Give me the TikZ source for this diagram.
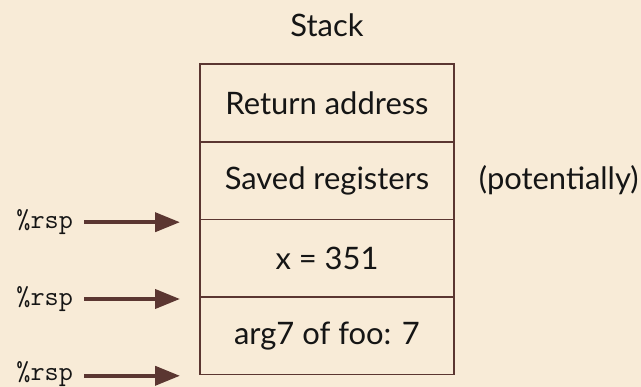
\documentclass[tikz,border=0pt]{standalone}
\usepackage{fontspec}
\setmainfont{Lato}
\usepackage{xcolor}
\usepackage{tikz}
\usetikzlibrary{positioning,arrows.meta}

\definecolor{paper}{HTML}{F8EBD7}
\definecolor{frame}{HTML}{5B3631}
\definecolor{ink}{HTML}{151515}

\begin{document}
\begin{tikzpicture}[
    slot/.style={draw=frame, line width=1.1pt, rectangle, minimum width=6.35cm,
      minimum height=1.94cm, inner sep=0pt, outer sep=0pt, text=ink,
      font=\fontsize{22}{26}\selectfont},
    label/.style={text=ink, font=\fontsize{22}{26}\selectfont},
    rsp/.style={text=ink, font=\ttfamily\fontsize{19.5}{22}\selectfont,
      inner ysep=0pt, inner xsep=0.27cm},
    ptr/.style={draw=frame, line width=2.9pt, -{Triangle[length=0.62cm, width=0.47cm]}}
  ]
    \fill[paper] (0,0) rectangle (16.025,9.675);
    \useasboundingbox (0,0) rectangle (16.025,9.675);

    % the stack frame, top to bottom
    \node[slot] (ret) at (8.175,7.1) {Return address};
    \node[slot, below=0pt of ret] (saved) {Saved registers};
    \node[slot, below=0pt of saved] (xval) {x = 351};
    \node[slot, below=0pt of xval] (arg) {arg7 of foo: 7};

    \node[label, above=0.55cm of ret] (title) {Stack};
    \node[label, right=0.5cm of saved] (maybe) {(potentially)};

    % possible values of the stack pointer
    \coordinate (p1) at ([xshift=-0.5cm, yshift=-0.07cm]xval.north west);
    \coordinate (p2) at ([xshift=-0.5cm, yshift=-0.05cm]arg.north west);
    \coordinate (p3) at ([xshift=-0.5cm, yshift=-0.03cm]arg.south west);
    \node[rsp, anchor=east] (r1) at ([xshift=-2.4cm]p1) {\%rsp};
    \node[rsp, anchor=east] (r2) at ([xshift=-2.4cm]p2) {\%rsp};
    \node[rsp, anchor=east] (r3) at ([xshift=-2.4cm, yshift=0.04cm]p3) {\%rsp};
    \draw[ptr] (r1.east) -- (p1);
    \draw[ptr] (r2.east) -- (p2);
    \draw[ptr] ([yshift=-0.04cm]r3.east) -- (p3);
\end{tikzpicture}
\end{document}
